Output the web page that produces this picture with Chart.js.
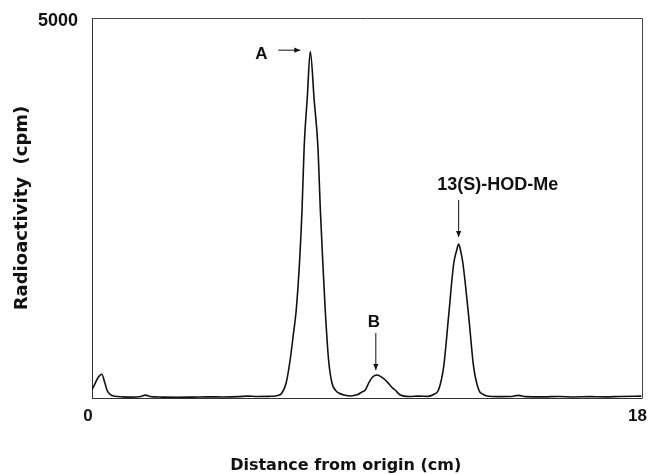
<!DOCTYPE html>
<html><head><meta charset="utf-8">
<script src="https://cdn.jsdelivr.net/npm/chart.js@4"></script>
<style>html,body{margin:0;padding:0;background:#fff;} #wrap{width:648px;height:474px;position:relative;}</style>
</head><body><div id="wrap"><canvas id="c" width="648" height="474"></canvas></div>
<script>
// Distance from origin (cm)
const distanceCm = [0.00,0.10,0.20,0.32,0.42,0.50,0.60,0.75,1.00,1.30,1.60,1.75,1.90,2.30,2.80,3.30,3.80,4.30,4.80,5.10,5.40,5.80,6.05,
  6.22,6.36,6.49,6.60,6.69,6.80,6.88,6.95,7.05,7.15,7.28,7.40,7.48,7.56,7.64,7.75,7.86,7.98,8.08,8.30,8.46,
  8.70,8.85,8.95,9.08,9.20,9.33,9.45,9.60,9.71,9.85,9.93,10.10,10.40,10.70,11.00,11.20,11.35,11.52,11.68,11.85,11.95,12.01,12.08,12.15,12.34,12.50,12.67,12.80,12.94,
  13.30,13.70,13.97,14.20,14.80,15.30,15.80,16.30,16.80,17.30,18.00];
// Radioactivity (cpm)
const radioactivityCpm = [110,190,270,312,200,95,45,22,15,12,20,38,20,12,10,12,15,14,18,25,20,22,30,
  66,197,500,850,1158,1800,2474,3307,3940,4557,3910,3307,2474,1790,1158,500,197,100,66,35,26,
  45,80,105,210,280,303,285,240,193,130,105,39,20,25,22,50,105,412,1070,1773,1950,2027,1930,1773,1070,412,105,50,26,
  18,20,35,18,15,20,14,18,15,20,25];
const xTickValues = [0, 18];
const yTickValues = [5000];
const peakLabels = ['A', 'B', '13(S)-HOD-Me'];
const peakX = [7.15, 9.33, 12.01];
const peakY = [4557, 303, 2027];
const xTitle = 'Distance from origin (cm)';
const yTitle = 'Radioactivity  (cpm)';

const INK = '#111';
const annoStyle = {
  'A': {font: 'bold 17px "Liberation Sans"', tx: -49, ty: 2.5, ax1: -32, ay1: -1.5, ax2: -10, ay2: -1.5},
  'B': {font: 'bold 17px "Liberation Sans"', tx: -3, ty: -53, ax1: -1, ay1: -42, ax2: -1, ay2: -5},
  '13(S)-HOD-Me': {font: 'bold 18px "Liberation Sans"', tx: 39, ty: -59, ax1: 0, ay1: -44, ax2: 0, ay2: -7}
};

function arrow(ctx, x1, y1, x2, y2) {
  ctx.beginPath(); ctx.moveTo(x1, y1); ctx.lineTo(x2, y2); ctx.stroke();
  const ang = Math.atan2(y2 - y1, x2 - x1), L = 6, W = 2.6;
  ctx.beginPath();
  ctx.moveTo(x2, y2);
  ctx.lineTo(x2 - L * Math.cos(ang) + W * Math.sin(ang), y2 - L * Math.sin(ang) - W * Math.cos(ang));
  ctx.lineTo(x2 - L * Math.cos(ang) - W * Math.sin(ang), y2 - L * Math.sin(ang) + W * Math.cos(ang));
  ctx.closePath(); ctx.fill();
}

const overlay = {
  id: 'overlay',
  afterDraw(chart) {
    const {ctx, chartArea: a, scales: {x, y}} = chart;
    ctx.save();
    ctx.strokeStyle = '#444'; ctx.lineWidth = 1;
    const L = Math.round(a.left) + 0.5, T = Math.round(a.top) + 0.5, R = Math.round(a.right) + 0.5, B = Math.round(a.bottom) + 0.5;
    ctx.beginPath(); ctx.moveTo(L, T); ctx.lineTo(R, T); ctx.lineTo(R, B); ctx.stroke();
    ctx.fillStyle = INK; ctx.strokeStyle = INK; ctx.lineWidth = 1;
    ctx.textAlign = 'center'; ctx.textBaseline = 'middle';
    peakLabels.forEach((lab, i) => {
      const s = annoStyle[lab];
      const px = x.getPixelForValue(peakX[i]), py = y.getPixelForValue(peakY[i]);
      ctx.font = s.font;
      ctx.fillText(lab, px + s.tx, py + s.ty);
      arrow(ctx, px + s.ax1, py + s.ay1, px + s.ax2, py + s.ay2);
    });
    ctx.font = 'bold 16px "DejaVu Sans"';
    ctx.fillText(xTitle, (a.left + a.right) / 2 - 21, 466);
    ctx.restore();
  }
};

new Chart(document.getElementById('c'), {
  type: 'line',
  data: {
    datasets: [{
      data: distanceCm.map((d, i) => ({x: d, y: radioactivityCpm[i]})),
      borderColor: INK, borderWidth: 1.6, pointRadius: 0, fill: false,
      cubicInterpolationMode: 'monotone'
    }]
  },
  options: {
    responsive: false, devicePixelRatio: 1, animation: false,
    layout: {padding: {left: 0, top: 18, right: 6.5, bottom: 52}},
    plugins: {legend: {display: false}, tooltip: {enabled: false}},
    scales: {
      x: {
        type: 'linear', min: 0, max: 18,
        afterBuildTicks: s => { s.ticks = xTickValues.map(v => ({value: v})); },
        afterFit: s => { s.paddingLeft = 0; s.paddingRight = 0; s.height = 24; },
        ticks: {font: {family: 'Liberation Sans', weight: 'bold', size: 17}, color: INK, padding: 8, maxRotation: 0, autoSkip: false, labelOffset: -4, callback: v => String(v)},
        grid: {display: false, drawTicks: false},
        border: {display: true, color: '#333', width: 1}
      },
      y: {
        type: 'linear', min: 0, max: 5000,
        afterBuildTicks: s => { s.ticks = yTickValues.map(v => ({value: v})); },
        afterFit: s => { s.paddingTop = 0; s.paddingBottom = 0; s.width = 92; },
        ticks: {font: {family: 'Liberation Sans', weight: 'bold', size: 18}, color: INK, padding: 14, labelOffset: 3, callback: v => String(v)},
        grid: {display: false, drawTicks: false},
        border: {display: true, color: '#333', width: 1},
        title: {display: true, text: yTitle, color: INK, font: {family: 'DejaVu Sans', weight: 'bold', size: 18}, padding: {top: 12, bottom: 4}}
      }
    }
  },
  plugins: [overlay]
});
</script></body></html>
